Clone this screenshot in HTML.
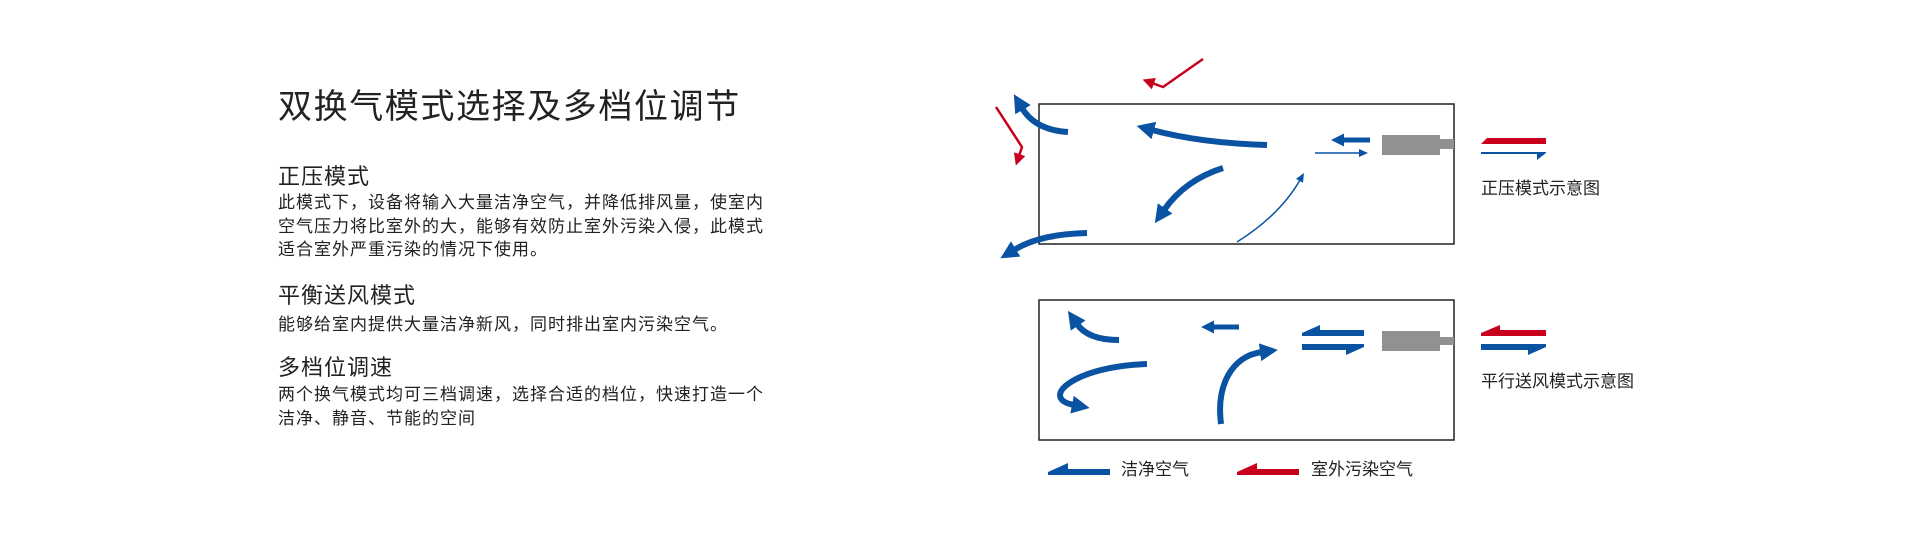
<!DOCTYPE html>
<html><head><meta charset="utf-8"><style>
html,body{margin:0;padding:0;background:#fff;}
body{width:1920px;height:546px;position:relative;overflow:hidden;font-family:"Liberation Sans","Noto Sans CJK SC",sans-serif;color:#222;}
.t{position:absolute;white-space:nowrap;}
</style></head><body>
<div class="t" style="left:278px;top:87px;font-size:34px;letter-spacing:1.6px;line-height:40px;">双换气模式选择及多档位调节</div>
<div class="t" style="left:278px;top:164px;font-size:22px;letter-spacing:1px;line-height:26px;">正压模式</div>
<div class="t" style="left:278px;top:191px;font-size:17px;letter-spacing:1px;line-height:23.5px;">此模式下，设备将输入大量洁净空气，并降低排风量，使室内<br>空气压力将比室外的大，能够有效防止室外污染入侵，此模式<br>适合室外严重污染的情况下使用。</div>
<div class="t" style="left:278px;top:283px;font-size:22px;letter-spacing:1px;line-height:26px;">平衡送风模式</div>
<div class="t" style="left:278px;top:313px;font-size:17px;letter-spacing:1px;line-height:23.5px;">能够给室内提供大量洁净新风，同时排出室内污染空气。</div>
<div class="t" style="left:278px;top:355px;font-size:22px;letter-spacing:1px;line-height:26px;">多档位调速</div>
<div class="t" style="left:278px;top:383px;font-size:17px;letter-spacing:1px;line-height:23.5px;">两个换气模式均可三档调速，选择合适的档位，快速打造一个<br>洁净、静音、节能的空间</div>

<div class="t" style="left:1481px;top:179px;font-size:17px;line-height:20px;">正压模式示意图</div>
<div class="t" style="left:1481px;top:372px;font-size:17px;line-height:20px;">平行送风模式示意图</div>
<div class="t" style="left:1121px;top:460px;font-size:17px;line-height:20px;">洁净空气</div>
<div class="t" style="left:1311px;top:460px;font-size:17px;line-height:20px;">室外污染空气</div>

<svg width="1920" height="546" style="position:absolute;left:0;top:0" xmlns="http://www.w3.org/2000/svg">
<defs>
<marker id="hb" markerUnits="userSpaceOnUse" markerWidth="20" markerHeight="20" refX="2" refY="9" orient="auto"><path d="M0,0 L18,9 L0,18 z" fill="#0a52a2"/></marker>
<marker id="hs" markerUnits="userSpaceOnUse" markerWidth="14" markerHeight="14" refX="2" refY="6.5" orient="auto"><path d="M0,0 L13,6.5 L0,13 z" fill="#0a52a2"/></marker>
<marker id="ht" markerUnits="userSpaceOnUse" markerWidth="10" markerHeight="10" refX="1" refY="4" orient="auto"><path d="M0,0 L9,4 L0,8 z" fill="#0a52a2"/></marker>
<marker id="hr" markerUnits="userSpaceOnUse" markerWidth="14" markerHeight="14" refX="2" refY="6" orient="auto"><path d="M0,0 L12,6 L0,12 z" fill="#c8001e"/></marker>
</defs>
<g fill="none" stroke="#222" stroke-width="1.5">
<rect x="1039" y="104" width="415" height="140"/>
<rect x="1039" y="300" width="415" height="140"/>
</g>
<rect x="1382" y="135" width="58" height="20" fill="#919191"/>
<rect x="1440" y="139" width="14" height="10" fill="#919191"/>
<rect x="1382" y="331" width="58" height="20" fill="#919191"/>
<rect x="1440" y="337" width="14" height="8" fill="#919191"/>
<g fill="none" stroke="#0a52a2" stroke-width="6">
<path d="M1068,132 Q1035,130 1022,108" marker-end="url(#hb)"/>
<path d="M1267,145 Q1200,143 1152,130" marker-end="url(#hb)"/>
<path d="M1370,140 L1342,140" stroke-width="5" marker-end="url(#hs)"/>
<path d="M1223,168 Q1185,180 1164,210" marker-end="url(#hb)"/>
<path d="M1087,233 Q1040,234 1014,250" marker-end="url(#hb)"/>
<path d="M1119,340 Q1088,340 1077,324" marker-end="url(#hb)"/>
<path d="M1239,327 L1212,327" stroke-width="5" marker-end="url(#hs)"/>
<path d="M1147,364 C1075,366 1038,398 1074,405" marker-end="url(#hb)"/>
<path d="M1221,424 C1216,385 1232,356 1262,352" marker-end="url(#hb)"/>
</g>
<g fill="none" stroke="#0a52a2" stroke-width="1.5">
<path d="M1315,153 L1360,153" marker-end="url(#ht)"/>
<path d="M1237,242 Q1280,215 1300,180" marker-end="url(#ht)"/>
</g>
<g fill="none" stroke="#c8001e" stroke-width="2.5">
<path d="M1203,59 L1163,87 L1152,83" marker-end="url(#hr)"/>
<path d="M996,107 L1022,147 L1019,156" marker-end="url(#hr)"/>
</g>
<g fill="#0a52a2">
<polygon points="1302,333 1320,325 1320,330 1364,330 1364,336 1302,336"/>
<polygon points="1302,344 1364,344 1364,347 1346,355 1346,350 1302,350"/>
<polygon points="1481,344 1546,344 1546,347 1528,355 1528,350 1481,350"/>
<polygon points="1481,152 1546,152 1546,153 1537,160 1537,154 1481,154"/>
<polygon points="1048,472 1068,463 1068,469 1110,469 1110,475 1048,475"/>
</g>
<g fill="#c8001e">
<polygon points="1481,333 1500,325 1500,330 1546,330 1546,336 1481,336"/>
<polygon points="1487,138 1546,138 1546,144 1481,144"/>
<polygon points="1237,472 1257,463 1257,469 1299,469 1299,475 1237,475"/>
</g>
</svg>
</body></html>
